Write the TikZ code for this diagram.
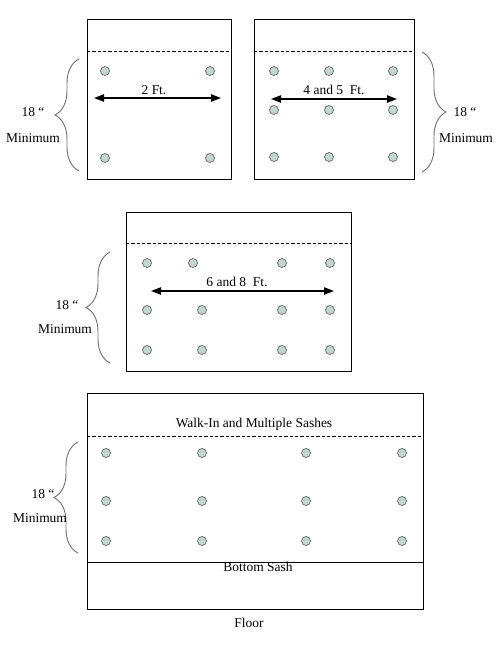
\documentclass[tikz,border=0pt]{standalone}
\usepackage{fontspec}
\setmainfont{Liberation Serif}
\usetikzlibrary{arrows.meta,decorations.pathreplacing}

\definecolor{holefill}{RGB}{196,214,208}

\tikzset{
  hole/.style={circle, draw=black!60, fill=holefill, minimum size=0.27cm, inner sep=0pt, line width=0.6pt},
  sash/.style={line width=0.8pt},
  cut/.style={line width=0.6pt, dash pattern=on 0.1cm off 0.06cm},
  span/.style={line width=1.1pt, {Triangle[length=0.3cm,width=0.22cm]}-{Triangle[length=0.3cm,width=0.22cm]}},
  curly/.style={decorate, decoration={brace, amplitude=0.72cm}, draw=black!55, line width=0.8pt},
  lbl/.style={font=\fontsize{11.5}{13}\selectfont, inner sep=1pt}
}

\begin{document}
\begin{tikzpicture}[x=0.03cm, y=-0.03cm]
  \useasboundingbox (0,0) rectangle (494,661);

  % 2 Ft. window (top left)
  \draw[sash] (87,19) rectangle (231,179);
  \draw[cut] (87,51) -- (231,51);
  \foreach \x/\n in {105/a,210/b}
    \foreach \y/\m in {71/1,158/2}
      \node[hole] (pa-\n\m) at (\x,\y) {};
  \coordinate (pa-l) at (94,98);
  \coordinate (pa-r) at (221,98);
  \draw[span] (pa-l) -- (pa-r);
  \node[lbl] (pa-t) at (154,90) {2 Ft.};
  \coordinate (ba-lo) at (79,171);
  \coordinate (ba-hi) at (79,59);
  \draw[curly] (ba-lo) -- (ba-hi);
  \node[lbl] (ba-n) at (33,112) {18 “};
  \node[lbl] (ba-m) at (33,138) {Minimum};

  % 4 and 5 Ft. window (top right)
  \draw[sash] (254,19) rectangle (414,179);
  \draw[cut] (254,51) -- (414,51);
  \foreach \x/\n in {274/a,329/b,393/c}
    \foreach \y/\m in {71/1,110/2,157/3}
      \node[hole] (pb-\n\m) at (\x,\y) {};
  \coordinate (pb-l) at (271,99);
  \coordinate (pb-r) at (397,99);
  \draw[span] (pb-l) -- (pb-r);
  \node[lbl] (pb-t) at (334,90) {4 and 5~ Ft.};
  \coordinate (bb-hi) at (422,52);
  \coordinate (bb-lo) at (422,172);
  \draw[curly] (bb-hi) -- (bb-lo);
  \node[lbl] (bb-n) at (465,112) {18 “};
  \node[lbl] (bb-m) at (466,138) {Minimum};

  % 6 and 8 Ft. window (middle)
  \draw[sash] (126,212) rectangle (351,371);
  \draw[cut] (126,243) -- (351,243);
  \foreach \x/\n in {147/a,193/b,282/c,330/d}
    \node[hole] (pc-\n1) at (\x,263) {};
  \foreach \x/\n in {147/a,202/b,282/c,330/d}
    \foreach \y/\m in {310/2,350/3}
      \node[hole] (pc-\n\m) at (\x,\y) {};
  \coordinate (pc-l) at (151,291);
  \coordinate (pc-r) at (334,291);
  \draw[span] (pc-l) -- (pc-r);
  \node[lbl] (pc-t) at (237,282) {6 and 8~ Ft.};
  \coordinate (bc-lo) at (110,363);
  \coordinate (bc-hi) at (110,252);
  \draw[curly] (bc-lo) -- (bc-hi);
  \node[lbl] (bc-n) at (67,305) {18 “};
  \node[lbl] (bc-m) at (65,329) {Minimum};

  % walk-in window (bottom)
  \draw[sash] (87,393) rectangle (423,609);
  \draw[cut] (87,436) -- (423,436);
  \draw[sash] (87,562) -- (423,562);
  \foreach \x/\n in {106/a,202/b,306/c,402/d}
    \foreach \y/\m in {453/1,501/2,541/3}
      \node[hole] (pd-\n\m) at (\x,\y) {};
  \node[lbl] (pd-t) at (254,424) {Walk-In and Multiple Sashes};
  \node[lbl] (pd-s) at (258,567) {Bottom Sash};
  \node[lbl] (pd-f) at (249,623) {Floor};
  \coordinate (bd-lo) at (78,553);
  \coordinate (bd-hi) at (78,442);
  \draw[curly] (bd-lo) -- (bd-hi);
  \node[lbl] (bd-n) at (43,494) {18 “};
  \node[lbl] (bd-m) at (40,518) {Minimum};
\end{tikzpicture}
\end{document}
